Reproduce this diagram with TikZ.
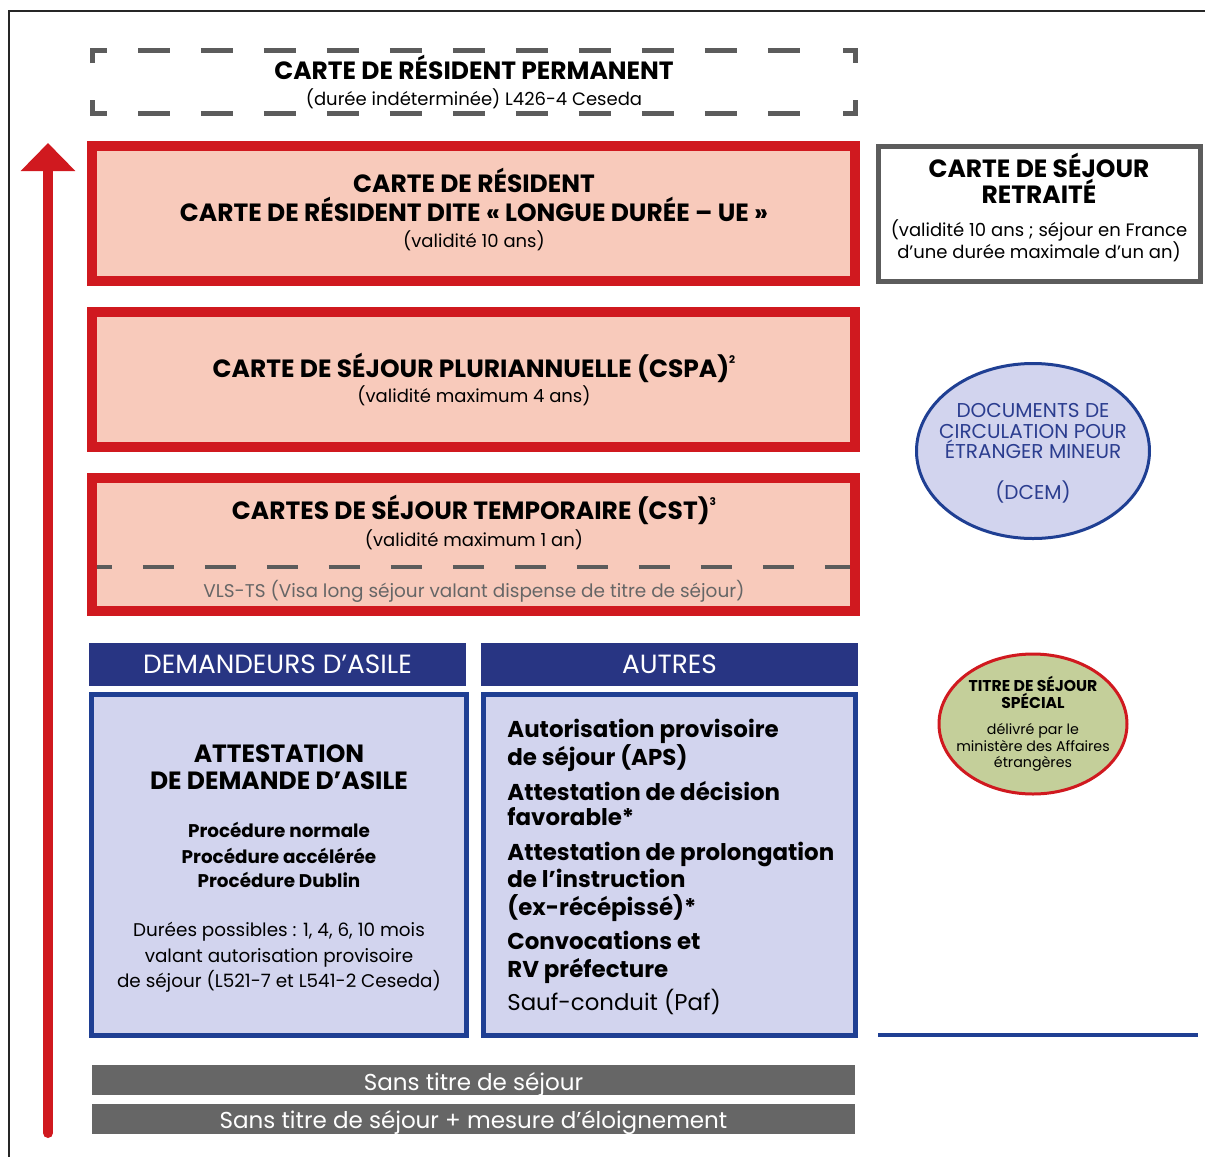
\documentclass[tikz,border=0pt]{standalone}
\usepackage{fontspec}
\setmainfont{Poppins}
\usetikzlibrary{arrows.meta, shapes.geometric, positioning}

\definecolor{titlered}{HTML}{D0191F}
\definecolor{titlepink}{HTML}{F8CABB}
\definecolor{framegray}{HTML}{5C5C5C}
\definecolor{asylblue}{HTML}{283583}
\definecolor{edgeblue}{HTML}{1F3F93}
\definecolor{lavender}{HTML}{D2D4EE}
\definecolor{minorblue}{HTML}{2B3D8F}
\definecolor{olivefill}{HTML}{C4CF9A}
\definecolor{bargray}{HTML}{666666}

\newcommand{\pxu}{0.02cm}
\newcommand{\fhead}{\fontsize{14.2}{17}\bfseries}
\newcommand{\fsub}{\fontsize{10.25}{13}\selectfont}
\newcommand{\noteref}[1]{\raisebox{0.55em}{\fontsize{6}{7}\selectfont #1}}

\tikzset{
	redcard/.style={draw=titlered, fill=titlepink, line width=0.2cm, inner sep=0pt, minimum width=763*\pxu},
	greycard/.style={draw=framegray, line width=0.1cm, inner sep=0pt},
	bluecard/.style={draw=edgeblue, fill=lavender, line width=0.1cm, inner sep=0pt, minimum height=340.5*\pxu},
	bluehead/.style={fill=asylblue, inner sep=0pt, minimum width=377*\pxu, minimum height=43*\pxu},
	graybar/.style={fill=bargray, inner sep=0pt, minimum width=763*\pxu, minimum height=30*\pxu},
	txt/.style={anchor=base, inner sep=0pt},
	ltxt/.style={anchor=base west, inner sep=0pt},
}

\begin{document}
\begin{tikzpicture}[x=\pxu, y=-\pxu]
	\useasboundingbox (0,0) rectangle (1205,1157);
	\draw[black!85, line width=0.03cm] (9,1157) -- (9,11) -- (1205,11);

	% permanent card, dashed frame only
	\begin{scope}[framegray, line width=0.1cm]
		\draw (92,63) -- (92,50) -- (107,50);
		\draw (92,100) -- (92,113) -- (107,113);
		\draw (843,50) -- (855,50) -- (855,63);
		\draw (843,113) -- (855,113) -- (855,100);
		\draw[dash pattern=on 0.64cm off 0.62cm] (138,50) -- (812,50);
		\draw[dash pattern=on 0.64cm off 0.62cm] (138,113) -- (812,113);
	\end{scope}
	\node[txt] (perm1) at (474,79) {\fhead CARTE DE RÉSIDENT PERMANENT};
	\node[txt] (perm2) at (474,105) {\fsub (durée indéterminée) L426-4 Ceseda};

	% red cards
	\node[redcard, minimum height=135*\pxu] (resident) at (473.5,213.5) {};
	\node[txt] (resident1) at (474,192) {\fhead CARTE DE RÉSIDENT};
	\node[txt] (resident2) at (474,221) {\fhead CARTE DE RÉSIDENT DITE « LONGUE DURÉE – UE »};
	\node[txt] (resident3) at (474,247) {\fsub (validité 10 ans)};

	\node[redcard, minimum height=135*\pxu] (cspa) at (473.5,379.5) {};
	\node[txt] (cspa1) at (474,377) {\fhead CARTE DE SÉJOUR PLURIANNUELLE (CSPA)\noteref{2}};
	\node[txt] (cspa2) at (474,402) {\fsub (validité maximum 4 ans)};

	\node[redcard, minimum height=133*\pxu] (cst) at (473.5,544.5) {};
	\draw[framegray, line width=0.08cm, dash pattern=on 0.62cm off 0.62cm, dash phase=0.32cm]
		(97,567) -- (850,567);
	\node[txt] (cst1) at (474,519) {\fhead CARTES DE SÉJOUR TEMPORAIRE (CST)\noteref{3}};
	\node[txt] (cst2) at (474,546) {\fsub (validité maximum 1 an)};
	\node[txt, text=bargray, font=\fontsize{10.5}{13}\selectfont] (vlsts) at (474,597) {VLS-TS (Visa long séjour valant dispense de titre de séjour)};

	% right column
	\node[greycard, minimum width=322*\pxu, minimum height=135*\pxu] (retraite) at (1039,213.5) {};
	\node[txt] (retraite1) at (1039,177) {\fhead CARTE DE SÉJOUR};
	\node[txt] (retraite2) at (1039,203) {\fhead RETRAITÉ};
	\node[txt] (retraite3) at (1039,236) {\fsub (validité 10 ans ; séjour en France};
	\node[txt] (retraite4) at (1039,258) {\fsub d’une durée maximale d’un an)};

	\node[ellipse, draw=edgeblue, fill=lavender, line width=0.06cm, minimum width=233*\pxu, minimum height=175*\pxu] (dcem) at (1033,451) {};
	\begin{scope}[every node/.style={txt, text=minorblue, font=\fontsize{11.4}{13}\selectfont}]
		\node (dcem1) at (1033,417) {DOCUMENTS DE};
		\node (dcem2) at (1033,438) {CIRCULATION POUR};
		\node (dcem3) at (1033,458) {ÉTRANGER MINEUR};
		\node (dcem4) at (1033,499) {(DCEM)};
	\end{scope}

	\node[ellipse, draw=titlered, fill=olivefill, line width=0.06cm, minimum width=188*\pxu, minimum height=140*\pxu] (special) at (1033,724) {};
	\node[txt, font=\fontsize{8.9}{10}\bfseries] (special1) at (1033,691) {TITRE DE SÉJOUR};
	\node[txt, font=\fontsize{8.9}{10}\bfseries] (special2) at (1033,708) {SPÉCIAL};
	\node[txt, font=\fontsize{8.1}{10}\selectfont] (special3) at (1033,734) {délivré par le};
	\node[txt, font=\fontsize{8.1}{10}\selectfont] (special4) at (1033,751) {ministère des Affaires};
	\node[txt, font=\fontsize{8.1}{10}\selectfont] (special5) at (1033,767) {étrangères};

	\draw[edgeblue, line width=0.08cm] (878,1035) -- (1198,1035);

	% temporary documents
	\node[bluehead] (asylhead) at (277.5,664.5) {};
	\node[txt, text=white, font=\fontsize{15}{17}\selectfont] (asyltitle) at (277.5,673) {DEMANDEURS D’ASILE};
	\node[bluehead] (otherhead) at (669.5,664.5) {};
	\node[txt, text=white, font=\fontsize{15}{17}\selectfont] (othertitle) at (669.5,673) {AUTRES};

	\node[bluecard, minimum width=374.5*\pxu] (asylum) at (278.75,864.75) {};
	\node[txt] (asylum1) at (279,762) {\fhead ATTESTATION};
	\node[txt] (asylum2) at (279,789) {\fhead DE DEMANDE D’ASILE};
	\begin{scope}[every node/.style={txt, font=\fontsize{10.45}{13}\bfseries}]
		\node (proc1) at (279,837) {Procédure normale};
		\node (proc2) at (279,863) {Procédure accélérée};
		\node (proc3) at (279,887) {Procédure Dublin};
	\end{scope}
	\begin{scope}[every node/.style={txt, font=\fontsize{10.45}{13}\selectfont}]
		\node (dur1) at (279,936) {Durées possibles : 1, 4, 6, 10 mois};
		\node (dur2) at (279,962) {valant autorisation provisoire};
		\node (dur3) at (279,987) {de séjour (L521-7 et L541-2 Ceseda)};
	\end{scope}

	\node[bluecard, minimum width=372.5*\pxu] (others) at (669.25,864.75) {};
	\begin{scope}[every node/.style={ltxt, font=\fontsize{13.05}{16}\bfseries}]
		\node (aps1) at (507,737) {Autorisation provisoire};
		\node (aps2) at (507,765) {de séjour (APS)};
		\node (adf1) at (507,800) {Attestation de décision};
		\node (adf2) at (507,825) {favorable*};
		\node (api1) at (507,860) {Attestation de prolongation};
		\node (api2) at (507,887) {de l’instruction};
		\node (api3) at (507,915) {(ex-récépissé)*};
		\node (conv1) at (507,949) {Convocations et};
		\node (conv2) at (507,977) {RV préfecture};
	\end{scope}
	\node[ltxt, font=\fontsize{13}{16}\selectfont] (paf) at (507,1010) {Sauf-conduit (Paf)};

	% no permit
	\node[graybar] (nopermit) at (473.5,1080) {};
	\node[txt, text=white, font=\fontsize{13.1}{16}\selectfont] (nopermittext) at (473.5,1090) {Sans titre de séjour};
	\node[graybar] (removal) at (473.5,1119) {};
	\node[txt, text=white, font=\fontsize{13.1}{16}\selectfont] (removaltext) at (473.5,1128) {Sans titre de séjour + mesure d’éloignement};

	% upward arrow
	\coordinate (arrowfoot) at (48,1133);
	\coordinate (arrowtop) at (48,143);
	\draw[titlered, line width=0.2cm, line cap=round, -{Triangle[width=1.06cm, length=0.56cm]}]
		(arrowfoot) -- (arrowtop);
\end{tikzpicture}
\end{document}
